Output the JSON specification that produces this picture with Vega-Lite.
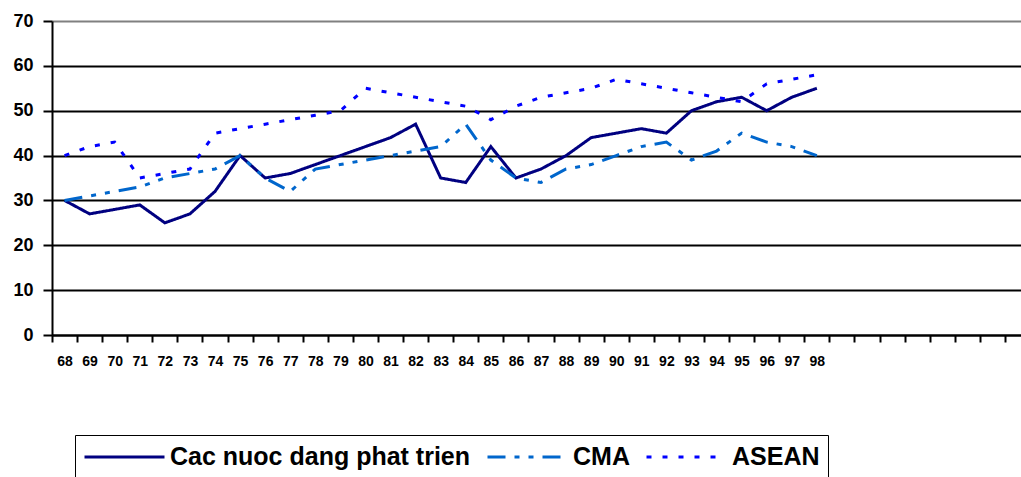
{
  "$schema": "https://vega.github.io/schema/vega-lite/v6.json",
  "width": 969,
  "height": 314,
  "autosize": {"type": "none"},
  "padding": {"left": 52, "top": 21, "right": 0, "bottom": 142},
  "background": "white",
  "config": {
    "view": {"stroke": null},
    "font": "Liberation Sans"
  },
  "data": {
    "values": [
      {"year":"68","series":"Cac nuoc dang phat trien","value":30},
      {"year":"69","series":"Cac nuoc dang phat trien","value":27},
      {"year":"70","series":"Cac nuoc dang phat trien","value":28},
      {"year":"71","series":"Cac nuoc dang phat trien","value":29},
      {"year":"72","series":"Cac nuoc dang phat trien","value":25},
      {"year":"73","series":"Cac nuoc dang phat trien","value":27},
      {"year":"74","series":"Cac nuoc dang phat trien","value":32},
      {"year":"75","series":"Cac nuoc dang phat trien","value":40},
      {"year":"76","series":"Cac nuoc dang phat trien","value":35},
      {"year":"77","series":"Cac nuoc dang phat trien","value":36},
      {"year":"78","series":"Cac nuoc dang phat trien","value":38},
      {"year":"79","series":"Cac nuoc dang phat trien","value":40},
      {"year":"80","series":"Cac nuoc dang phat trien","value":42},
      {"year":"81","series":"Cac nuoc dang phat trien","value":44},
      {"year":"82","series":"Cac nuoc dang phat trien","value":47},
      {"year":"83","series":"Cac nuoc dang phat trien","value":35},
      {"year":"84","series":"Cac nuoc dang phat trien","value":34},
      {"year":"85","series":"Cac nuoc dang phat trien","value":42},
      {"year":"86","series":"Cac nuoc dang phat trien","value":35},
      {"year":"87","series":"Cac nuoc dang phat trien","value":37},
      {"year":"88","series":"Cac nuoc dang phat trien","value":40},
      {"year":"89","series":"Cac nuoc dang phat trien","value":44},
      {"year":"90","series":"Cac nuoc dang phat trien","value":45},
      {"year":"91","series":"Cac nuoc dang phat trien","value":46},
      {"year":"92","series":"Cac nuoc dang phat trien","value":45},
      {"year":"93","series":"Cac nuoc dang phat trien","value":50},
      {"year":"94","series":"Cac nuoc dang phat trien","value":52},
      {"year":"95","series":"Cac nuoc dang phat trien","value":53},
      {"year":"96","series":"Cac nuoc dang phat trien","value":50},
      {"year":"97","series":"Cac nuoc dang phat trien","value":53},
      {"year":"98","series":"Cac nuoc dang phat trien","value":55},
      {"year":"68","series":"CMA","value":30},
      {"year":"69","series":"CMA","value":31},
      {"year":"70","series":"CMA","value":32},
      {"year":"71","series":"CMA","value":33},
      {"year":"72","series":"CMA","value":35},
      {"year":"73","series":"CMA","value":36},
      {"year":"74","series":"CMA","value":37},
      {"year":"75","series":"CMA","value":40},
      {"year":"76","series":"CMA","value":35},
      {"year":"77","series":"CMA","value":32},
      {"year":"78","series":"CMA","value":37},
      {"year":"79","series":"CMA","value":38},
      {"year":"80","series":"CMA","value":39},
      {"year":"81","series":"CMA","value":40},
      {"year":"82","series":"CMA","value":41},
      {"year":"83","series":"CMA","value":42},
      {"year":"84","series":"CMA","value":47},
      {"year":"85","series":"CMA","value":39},
      {"year":"86","series":"CMA","value":35},
      {"year":"87","series":"CMA","value":34},
      {"year":"88","series":"CMA","value":37},
      {"year":"89","series":"CMA","value":38},
      {"year":"90","series":"CMA","value":40},
      {"year":"91","series":"CMA","value":42},
      {"year":"92","series":"CMA","value":43},
      {"year":"93","series":"CMA","value":39},
      {"year":"94","series":"CMA","value":41},
      {"year":"95","series":"CMA","value":45},
      {"year":"96","series":"CMA","value":43},
      {"year":"97","series":"CMA","value":42},
      {"year":"98","series":"CMA","value":40},
      {"year":"68","series":"ASEAN","value":40},
      {"year":"69","series":"ASEAN","value":42},
      {"year":"70","series":"ASEAN","value":43},
      {"year":"71","series":"ASEAN","value":35},
      {"year":"72","series":"ASEAN","value":36},
      {"year":"73","series":"ASEAN","value":37},
      {"year":"74","series":"ASEAN","value":45},
      {"year":"75","series":"ASEAN","value":46},
      {"year":"76","series":"ASEAN","value":47},
      {"year":"77","series":"ASEAN","value":48},
      {"year":"78","series":"ASEAN","value":49},
      {"year":"79","series":"ASEAN","value":50},
      {"year":"80","series":"ASEAN","value":55},
      {"year":"81","series":"ASEAN","value":54},
      {"year":"82","series":"ASEAN","value":53},
      {"year":"83","series":"ASEAN","value":52},
      {"year":"84","series":"ASEAN","value":51},
      {"year":"85","series":"ASEAN","value":48},
      {"year":"86","series":"ASEAN","value":51},
      {"year":"87","series":"ASEAN","value":53},
      {"year":"88","series":"ASEAN","value":54},
      {"year":"89","series":"ASEAN","value":55},
      {"year":"90","series":"ASEAN","value":57},
      {"year":"91","series":"ASEAN","value":56},
      {"year":"92","series":"ASEAN","value":55},
      {"year":"93","series":"ASEAN","value":54},
      {"year":"94","series":"ASEAN","value":53},
      {"year":"95","series":"ASEAN","value":52},
      {"year":"96","series":"ASEAN","value":56},
      {"year":"97","series":"ASEAN","value":57},
      {"year":"98","series":"ASEAN","value":58}
    ]
  },
  "mark": {"type": "line", "strokeWidth": 3, "strokeCap": "butt", "strokeJoin": "miter"},
  "encoding": {
    "x": {
      "field": "year",
      "type": "ordinal",
      "sort": null,
      "scale": {
        "domain": ["68","69","70","71","72","73","74","75","76","77","78","79","80","81","82","83","84","85","86","87","88","89","90","91","92","93","94","95","96","97","98","99","100","101","102","103","104","105","106"],
        "range": [0, 978],
        "paddingInner": 0,
        "paddingOuter": 0
      },
      "axis": {
        "title": null,
        "labelAngle": 0,
        "labelExpr": "toNumber(datum.value) > 98 ? '' : datum.label",
        "labelFont": "Liberation Sans",
        "labelFontSize": 14,
        "labelFontWeight": "bold",
        "labelColor": "black",
        "labelPadding": 12,
        "tickBand": "extent",
        "tickSize": 7,
        "tickWidth": 2,
        "tickColor": "black",
        "domainColor": "black",
        "domainWidth": 2,
        "grid": false
      }
    },
    "y": {
      "field": "value",
      "type": "quantitative",
      "scale": {"domain": [0, 70], "nice": false, "zero": true},
      "axis": {
        "title": null,
        "values": [0, 10, 20, 30, 40, 50, 60, 70],
        "labelFont": "Liberation Sans",
        "labelFontSize": 18,
        "labelFontWeight": "bold",
        "labelColor": "black",
        "labelPadding": 10,
        "tickSize": 9,
        "tickWidth": 2,
        "tickColor": "black",
        "domainColor": "black",
        "domainWidth": 2,
        "grid": true,
        "gridWidth": 2,
        "gridColor": {"condition": {"test": "datum.value == 70", "value": "#808080"}, "value": "black"},
        "gridOpacity": 1
      }
    },
    "color": {
      "field": "series",
      "type": "nominal",
      "scale": {
        "domain": ["Cac nuoc dang phat trien", "CMA", "ASEAN"],
        "range": ["#000080", "#0066CC", "#0000FF"]
      },
      "legend": {
        "title": null,
        "orient": "none",
        "legendX": 23,
        "legendY": 414,
        "direction": "horizontal",
        "symbolType": "stroke",
        "symbolSize": 6400,
        "symbolStrokeWidth": 3,
        "clipHeight": 28,
        "labelFont": "Liberation Sans",
        "labelFontSize": 25,
        "labelFontWeight": "bold",
        "labelColor": "black",
        "labelOffset": 4,
        "columnPadding": 15,
        "padding": 8,
        "strokeColor": "black",
        "labelLimit": 0
      }
    },
    "strokeDash": {
      "field": "series",
      "type": "nominal",
      "scale": {
        "domain": ["Cac nuoc dang phat trien", "CMA", "ASEAN"],
        "range": [[1, 0], [18, 9, 5, 9, 5, 9], [5, 11]]
      },
      "legend": {
        "title": null,
        "orient": "none",
        "legendX": 23,
        "legendY": 414,
        "direction": "horizontal",
        "symbolType": "stroke",
        "symbolSize": 6400,
        "symbolStrokeWidth": 3,
        "clipHeight": 28,
        "labelFont": "Liberation Sans",
        "labelFontSize": 25,
        "labelFontWeight": "bold",
        "labelColor": "black",
        "labelOffset": 4,
        "columnPadding": 15,
        "padding": 8,
        "strokeColor": "black",
        "labelLimit": 0
      }
    }
  }
}
